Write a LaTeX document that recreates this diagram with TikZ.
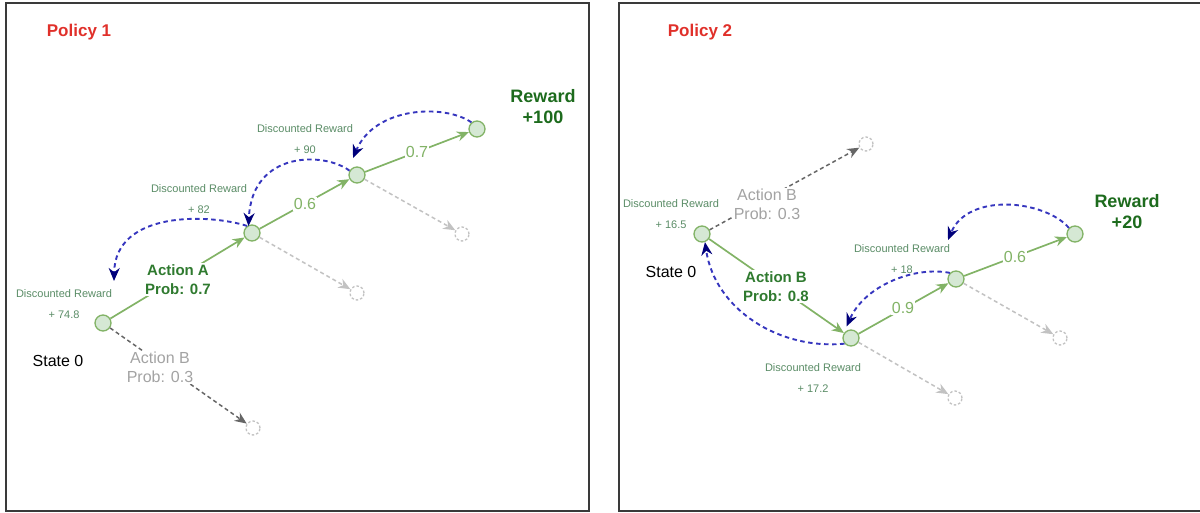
\documentclass[tikz,border=0pt]{standalone}
\usepackage{fontspec}
\setmainfont{Liberation Sans}
\usetikzlibrary{arrows.meta}
\definecolor{rlred}{HTML}{E0302A}
\definecolor{rlgreen}{HTML}{82B366}
\definecolor{rlfill}{HTML}{D5E8D4}
\definecolor{rlaction}{HTML}{2F7A2F}
\definecolor{rlreward}{HTML}{1D6B1D}
\definecolor{rldisc}{HTML}{5A8C66}
\definecolor{rlgray}{HTML}{A3A3A3}
\definecolor{rldarkgray}{HTML}{666666}
\definecolor{rllightgray}{HTML}{C2C2C2}
\definecolor{rlblue}{HTML}{3636BE}
\definecolor{rlnavy}{HTML}{00007A}
\definecolor{rlframe}{HTML}{3A3A3A}
\tikzset{
  statenode/.style={circle, draw=rlgreen, fill=rlfill, line width=1.3pt, minimum size=16pt, inner sep=0pt},
  ghostnode/.style={circle, draw=rllightgray, fill=white, dash pattern=on 2.5pt off 2pt, line width=1.3pt, minimum size=14pt, inner sep=0pt},
  act/.style={draw=rlgreen, line width=1.7pt, -{Stealth[length=12pt,width=10pt]}},
  alt/.style={draw=rllightgray, line width=1.5pt, dash pattern=on 4pt off 3pt, -{Stealth[length=12pt,width=10pt]}},
  altmain/.style={alt, draw=rldarkgray},
  back/.style={draw=rlblue, line width=1.9pt, dash pattern=on 4.5pt off 3.5pt, -{Stealth[length=13pt,width=11pt,color=rlnavy]}},
  title/.style={font=\fontsize{17}{20}\selectfont\bfseries, text=rlred},
  reward/.style={font=\fontsize{18}{21}\selectfont\bfseries, text=rlreward, align=center},
  actlabel/.style={font=\fontsize{15}{19}\selectfont\bfseries, text=rlaction, align=center, fill=white, inner sep=1pt},
  altlabel/.style={font=\fontsize{16}{19}\selectfont, text=rlgray, align=center, fill=white, inner sep=1pt},
  prob/.style={font=\fontsize{16}{19}\selectfont, text=rlgreen, fill=white, inner sep=1pt},
  disc/.style={font=\fontsize{11}{21}\selectfont, text=rldisc, align=center},
  statelabel/.style={font=\fontsize{16}{19}\selectfont}
}
\begin{document}
\begin{tikzpicture}[x={(1pt,0)}, y={(0,-1pt)}]
        \useasboundingbox (0, 0) rectangle (1200, 513);
        \draw[rlframe, line width=2pt] (6, 3) rectangle (589, 510.5);
        \draw[rlframe, line width=2pt] (1200, 3) -- (619, 3) -- (619, 510.5) -- (1200, 510.5);
        \node[title] (p1) at (79, 32) {Policy 1};
        \node[statenode] (s0) at (103, 323) {};
        \node[statenode] (a1) at (252, 233) {};
        \node[statenode] (a2) at (357, 175) {};
        \node[statenode] (r1) at (477, 129) {};
        \node[ghostnode] (g0) at (253, 428) {};
        \node[ghostnode] (g1) at (357, 293) {};
        \node[ghostnode] (g2) at (462, 234) {};
        \draw[act] (s0) -- (a1);
        \draw[act] (a1) -- (a2);
        \draw[act] (a2) -- (r1);
        \draw[altmain] (s0) -- (g0);
        \draw[alt] (a1) -- (g1);
        \draw[alt] (a2) -- (g2);
        \node[actlabel] (actA) at (178, 279.5) {Action A\\Prob: 0.7};
        \node[altlabel] (actB) at (160, 367.5) {Action B\\Prob: 0.3};
        \node[prob] (p06) at (305, 204) {0.6};
        \node[prob] (p07) at (417, 152) {0.7};
        \node[reward] (rw1) at (543, 107) {Reward\\+100};
        \node[statelabel] (st1) at (58, 361) {State 0};
        \node[disc] (d0) at (64, 304) {Discounted Reward\\+ 74.8};
        \node[disc] (d1) at (199, 199.5) {Discounted Reward\\+ 82};
        \node[disc] (d2) at (305, 139.5) {Discounted Reward\\+ 90};
        \coordinate (t2) at (353, 158);
        \coordinate (t1) at (248.5, 226);
        \coordinate (t0) at (114, 281);
        \draw[back] (r1.130) .. controls (445, 104) and (375, 106) .. (t2);
        \draw[back] (a2.150) .. controls (325, 152) and (252, 150) .. (t1);
        \draw[back] (a1.125) .. controls (210, 214) and (115, 210) .. (t0);
        \node[title] (p2) at (700, 32) {Policy 2};
        \node[statenode] (s1) at (702, 234) {};
        \node[statenode] (b1) at (851, 338) {};
        \node[statenode] (b2) at (956, 279) {};
        \node[statenode] (r2) at (1075, 234) {};
        \node[ghostnode] (h0) at (866, 144) {};
        \node[ghostnode] (h1) at (955, 398) {};
        \node[ghostnode] (h2) at (1060, 338) {};
        \draw[act] (s1) -- (b1);
        \draw[act] (b1) -- (b2);
        \draw[act] (b2) -- (r2);
        \draw[altmain] (s1) -- (h0);
        \draw[alt] (b1) -- (h1);
        \draw[alt] (b2) -- (h2);
        \node[actlabel] (actB2) at (776, 286.5) {Action B\\Prob: 0.8};
        \node[altlabel] (actB3) at (767, 204.5) {Action B\\Prob: 0.3};
        \node[prob] (p09) at (903, 308) {0.9};
        \node[prob] (p06b) at (1015, 257) {0.6};
        \node[reward] (rw2) at (1127, 212) {Reward\\+20};
        \node[statelabel] (st2) at (671, 272) {State 0};
        \node[disc] (e0) at (671, 214.5) {Discounted Reward\\+ 16.5};
        \node[disc] (e1) at (902, 259) {Discounted Reward\\+ 18};
        \node[disc] (e2) at (813, 378.5) {Discounted Reward\\+ 17.2};
        \coordinate (u2) at (948, 240);
        \coordinate (u1) at (846.5, 326.5);
        \draw[back] (r2.135) .. controls (1045, 200) and (968, 192) .. (u2);
        \draw[back] (b2.135) .. controls (915, 266) and (865, 285) .. (u1);
        \draw[back] (b1.221) .. controls (780, 350) and (715, 310) .. (s1.290);
\end{tikzpicture}
\end{document}
